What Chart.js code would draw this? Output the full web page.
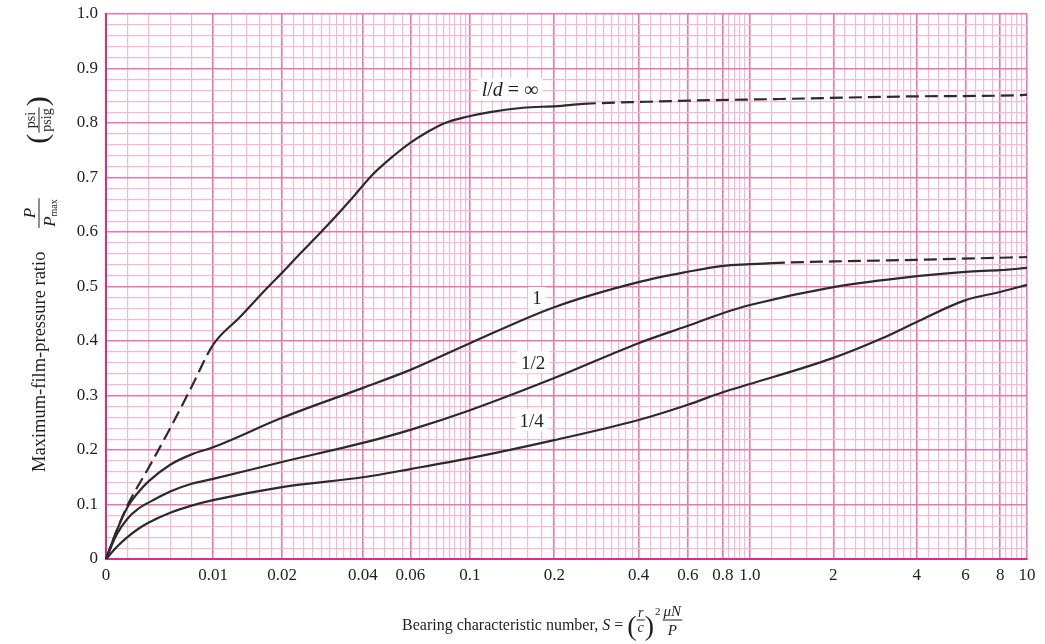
<!DOCTYPE html>
<html><head><meta charset="utf-8">
<script src="https://cdn.jsdelivr.net/npm/chart.js@4.4.1/dist/chart.umd.min.js"></script>
<style>html,body{margin:0;padding:0;background:#fff;}canvas{display:block;}</style>
</head><body>
<canvas id="c" width="1045" height="644" style="width:1045px;height:644px"></canvas>
<script>
// ---------------- data ----------------
const infS = [0, 0.001, 0.002, 0.004, 0.006, 0.008, 0.01, 0.01311, 0.01738, 0.02, 0.02333, 0.02722, 0.03286, 0.03672, 0.04357, 0.05174, 0.05978, 0.0692, 0.0808, 0.0965, 0.1179, 0.1547, 0.2045, 0.2532, 0.43, 0.74, 1.28, 1.94, 4.11, 9.4, 10];
const infP = [0, 0.052, 0.098, 0.168, 0.24, 0.316, 0.393, 0.444, 0.499, 0.525, 0.56, 0.594, 0.637, 0.664, 0.706, 0.739, 0.763, 0.783, 0.80, 0.811, 0.82, 0.828, 0.831, 0.835, 0.839, 0.842, 0.844, 0.846, 0.849, 0.851, 0.852];
const infDashBelow = 0.01, infDashAbove = 0.25;

const oneS = [0, 0.001, 0.002, 0.003, 0.004, 0.006, 0.008, 0.01, 0.02, 0.04, 0.06, 0.1, 0.2, 0.4, 0.6, 0.8, 1, 1.2, 2, 4, 10];
const oneP = [0, 0.052, 0.095, 0.122, 0.143, 0.173, 0.192, 0.205, 0.259, 0.314, 0.347, 0.396, 0.462, 0.508, 0.527, 0.538, 0.541, 0.543, 0.546, 0.549, 0.554];
const oneDashAbove = 1.2;

const halfS = [0, 0.001, 0.002, 0.003, 0.0046, 0.006, 0.008, 0.01, 0.02, 0.04, 0.06, 0.1, 0.2, 0.4, 0.6, 0.8, 1, 2, 4, 6, 8, 10];
const halfP = [0, 0.045, 0.074, 0.092, 0.11, 0.124, 0.138, 0.147, 0.178, 0.213, 0.237, 0.273, 0.332, 0.396, 0.428, 0.451, 0.466, 0.499, 0.519, 0.527, 0.530, 0.534];

const quarterS = [0, 0.001, 0.002, 0.003, 0.004, 0.006, 0.008, 0.01, 0.02, 0.04, 0.06, 0.1, 0.2, 0.4, 0.6, 0.8, 1, 2, 3, 4, 6, 8, 10];
const quarterP = [0, 0.022, 0.04, 0.055, 0.067, 0.085, 0.098, 0.108, 0.132, 0.15, 0.165, 0.185, 0.218, 0.255, 0.283, 0.306, 0.321, 0.369, 0.405, 0.435, 0.475, 0.49, 0.503];

// tick values / labels
const xMajorTicks = [0, 0.01, 0.02, 0.04, 0.06, 0.1, 0.2, 0.4, 0.6, 0.8, 1, 2, 4, 6, 8, 10];
const xTickLabels = ['0', '0.01', '0.02', '0.04', '0.06', '0.1', '0.2', '0.4', '0.6', '0.8', '1.0', '2', '4', '6', '8', '10'];
const xMinorTicks = [0.002, 0.004, 0.006, 0.008,
  0.012, 0.014, 0.016, 0.018,
  0.022, 0.024, 0.026, 0.028, 0.03, 0.032, 0.034, 0.036, 0.038,
  0.044, 0.048, 0.052, 0.056,
  0.065, 0.07, 0.075, 0.08, 0.084, 0.088, 0.092, 0.096,
  0.11, 0.12, 0.13, 0.14, 0.16, 0.18,
  0.22, 0.24, 0.26, 0.28, 0.3, 0.32, 0.34, 0.36, 0.38,
  0.44, 0.48, 0.52, 0.56,
  0.65, 0.7, 0.75,
  0.84, 0.88, 0.92, 0.96,
  1.2, 1.4, 1.6, 1.8,
  2.2, 2.4, 2.6, 2.8, 3, 3.2, 3.4, 3.6, 3.8,
  4.4, 4.8, 5.2, 5.6,
  6.5, 7, 7.5,
  8.4, 8.8, 9.2, 9.6];
const yTicks = [0, 0.02, 0.04, 0.06, 0.08, 0.1, 0.12, 0.14, 0.16, 0.18, 0.2, 0.22, 0.24, 0.26, 0.28, 0.3,
  0.32, 0.34, 0.36, 0.38, 0.4, 0.42, 0.44, 0.46, 0.48, 0.5, 0.52, 0.54, 0.56, 0.58, 0.6,
  0.62, 0.64, 0.66, 0.68, 0.7, 0.72, 0.74, 0.76, 0.78, 0.8, 0.82, 0.84, 0.86, 0.88, 0.9,
  0.92, 0.94, 0.96, 0.98, 1.0];
const yMajorTicks = [0, 0.1, 0.2, 0.3, 0.4, 0.5, 0.6, 0.7, 0.8, 0.9, 1.0];
const yTickLabels = ['0', '0.1', '0.2', '0.3', '0.4', '0.5', '0.6', '0.7', '0.8', '0.9', '1.0'];

// curve labels (placed in data coordinates)
const curveLabelS = [0.139, 0.1735, 0.168, 0.166];
const curveLabelP = [0.862, 0.479, 0.361, 0.255];

// ---------------- styles ----------------
const FONT = '"Liberation Serif", "Times New Roman", serif';
const INK = '#1f1f1f';
const GRID_MINOR = '#f6b9d5';
const GRID_MAJOR = '#ee74ad';
const AXIS = '#e0288c';

// segmented semi-log axis of the graph paper: linear up to 0.01, logarithmic cycles after
const paperAnchors = [[0, 0, 'lin'], [0.01, 0.1162, 'lin'], [0.02, 0.1911, 'log'], [0.1, 0.3952, 'log'], [1, 0.6992, 'log'], [10, 1, 'log']];

class PaperLogScale extends Chart.Scale {
  determineDataLimits() { this.min = 0; this.max = 10; }
  buildTicks() {
    const t = [];
    xMajorTicks.forEach((v, i) => t.push({ value: v, major: true, text: xTickLabels[i] }));
    xMinorTicks.forEach(v => t.push({ value: v, major: false, text: '' }));
    t.sort((a, b) => a.value - b.value);
    return t;
  }
  _dec(v) {
    const a = paperAnchors;
    if (v <= a[0][0]) return a[0][1];
    for (let i = 1; i < a.length; i++) {
      const v0 = a[i - 1][0], f0 = a[i - 1][1], v1 = a[i][0], f1 = a[i][1], mode = a[i][2];
      if (v <= v1) {
        const t = mode === 'lin' ? (v - v0) / (v1 - v0) : Math.log(v / v0) / Math.log(v1 / v0);
        return f0 + t * (f1 - f0);
      }
    }
    return 1;
  }
  getPixelForValue(v) { return this.getPixelForDecimal(this._dec(v)); }
  getValueForPixel(p) {
    const d = this.getDecimalForPixel(p), a = paperAnchors;
    for (let i = 1; i < a.length; i++) {
      const v0 = a[i - 1][0], f0 = a[i - 1][1], v1 = a[i][0], f1 = a[i][1], mode = a[i][2];
      if (d <= f1 || i === a.length - 1) {
        const t = (d - f0) / (f1 - f0);
        return mode === 'lin' ? v0 + t * (v1 - v0) : v0 * Math.pow(v1 / v0, t);
      }
    }
  }
  getLabelForValue(v) { return String(v); }
}
PaperLogScale.id = 'paperLog';
PaperLogScale.defaults = {};
Chart.register(PaperLogScale);

function pts(xs, ys) { return xs.map((x, i) => ({ x: x, y: ys[i] })); }
const inList = (list, v) => list.some(m => Math.abs(m - v) < 1e-9);
const gridColor = list => c => (c.tick && inList(list, c.tick.value)) ? GRID_MAJOR : GRID_MINOR;
const gridWidth = list => c => (c.tick && inList(list, c.tick.value)) ? 1.6 : 1.2;

// ---------------- text helpers ----------------
function runsWidth(ctx, runs) { let w = 0; runs.forEach(r => { ctx.font = r.f; w += ctx.measureText(r.t).width; }); return w; }
function drawRuns(ctx, runs, x, base) {
  runs.forEach(r => { ctx.font = r.f; ctx.fillText(r.t, x, base + (r.dy || 0)); x += ctx.measureText(r.t).width; });
  return x;
}
function frac(ctx, num, den, x, axis, numBase, denBase, pad) {
  const wn = runsWidth(ctx, num), wd = runsWidth(ctx, den);
  const w = Math.max(wn, wd) + 2 * pad;
  drawRuns(ctx, num, x + (w - wn) / 2, numBase);
  drawRuns(ctx, den, x + (w - wd) / 2, denBase);
  ctx.fillRect(x, axis - 0.5, w, 1);
  return x + w;
}

const textPlugin = {
  id: 'paperTexts',
  afterDraw(chart) {
    const ctx = chart.ctx, xs = chart.scales.x, ys = chart.scales.y, A = chart.chartArea;
    ctx.save();
    ctx.textAlign = 'left';
    ctx.textBaseline = 'alphabetic';
    const R = s => s + 'px ' + FONT, I = s => 'italic ' + s + 'px ' + FONT;

    // curve labels
    const labelRuns = [
      [{ t: 'l', f: I(20) }, { t: '/', f: R(20) }, { t: 'd', f: I(20) }, { t: ' = ∞', f: R(20) }],
      [{ t: '1', f: R(19) }],
      [{ t: '1/2', f: R(19) }],
      [{ t: '1/4', f: R(19) }]
    ];
    labelRuns.forEach((runs, i) => {
      const cx = xs.getPixelForValue(curveLabelS[i]), cy = ys.getPixelForValue(curveLabelP[i]);
      const w = runsWidth(ctx, runs);
      ctx.fillStyle = '#fff';
      ctx.fillRect(cx - w / 2 - 4, cy - 11, w + 8, 22);
      ctx.fillStyle = INK;
      drawRuns(ctx, runs, cx - w / 2, cy + 6.5);
    });

    // x-axis title
    ctx.fillStyle = INK;
    const xb = A.bottom + 71;
    let x = A.left + 296;
    x = drawRuns(ctx, [{ t: 'Bearing characteristic number, ', f: R(16) }, { t: 'S', f: I(16) }, { t: ' = ', f: R(16) }], x, xb);
    x = drawRuns(ctx, [{ t: '(', f: R(28) }], x, xb + 5);
    x = frac(ctx, [{ t: 'r', f: I(14) }], [{ t: 'c', f: I(14) }], x, xb - 10, xb - 13, xb + 2, 1);
    x = drawRuns(ctx, [{ t: ')', f: R(28) }], x, xb + 5);
    x = drawRuns(ctx, [{ t: '2', f: R(11) }], x + 1, xb - 15);
    x = frac(ctx, [{ t: 'μN', f: I(15) }], [{ t: 'P', f: I(15) }], x + 2, xb - 10, xb - 14, xb + 5, 1);

    // y-axis title (rotated)
    ctx.save();
    ctx.translate(A.left - 61, A.bottom - 87);
    ctx.rotate(-Math.PI / 2);
    ctx.fillStyle = INK;
    drawRuns(ctx, [{ t: 'Maximum-film-pressure ratio', f: R(18.5) }], 0, 0);
    const fn = [{ t: 'P', f: I(17) }], fd = [{ t: 'P', f: I(17) }, { t: 'max', f: R(10), dy: 2 }];
    const fw = Math.max(runsWidth(ctx, fn), runsWidth(ctx, fd)) + 2;
    frac(ctx, fn, fd, 259 - fw / 2, -6, -10, 10, 1);
    const pn = [{ t: 'psi', f: R(14) }], pd = [{ t: 'psig', f: R(14) }];
    const pw = Math.max(runsWidth(ctx, pn), runsWidth(ctx, pd)) + 2;
    ctx.font = R(30);
    const parW = ctx.measureText('(').width;
    let u = 352 - (pw + 2 * parW + 2) / 2;
    u = drawRuns(ctx, [{ t: '(', f: R(30) }], u, 2);
    u = frac(ctx, pn, pd, u + 1, -6, -10, 6, 1);
    drawRuns(ctx, [{ t: ')', f: R(30) }], u + 1, 2);
    ctx.restore();

    ctx.restore();
  }
};

// ---------------- chart ----------------
const lineStyle = { borderColor: '#2b2b2b', borderWidth: 2.2, pointRadius: 0, fill: false, cubicInterpolationMode: 'monotone' };
const DASH = [13, 6];

new Chart(document.getElementById('c'), {
  type: 'line',
  data: {
    datasets: [
      Object.assign({ label: 'l/d = ∞', data: pts(infS, infP),
        segment: { borderDash: c => (c.p1.parsed.x <= infDashBelow || c.p0.parsed.x >= infDashAbove) ? DASH : undefined } }, lineStyle),
      Object.assign({ label: '1', data: pts(oneS, oneP),
        segment: { borderDash: c => (c.p0.parsed.x >= oneDashAbove) ? DASH : undefined } }, lineStyle),
      Object.assign({ label: '1/2', data: pts(halfS, halfP) }, lineStyle),
      Object.assign({ label: '1/4', data: pts(quarterS, quarterP) }, lineStyle)
    ]
  },
  options: {
    responsive: false,
    animation: false,
    devicePixelRatio: 1,
    layout: { padding: { top: 14, right: 18, left: 0, bottom: 0 } },
    plugins: { legend: { display: false }, tooltip: { enabled: false } },
    scales: {
      x: {
        type: 'paperLog',
        position: 'bottom',
        grid: { color: gridColor(xMajorTicks), lineWidth: gridWidth(xMajorTicks), drawTicks: false },
        border: { color: AXIS, width: 2 },
        ticks: { autoSkip: false, maxRotation: 0, minRotation: 0, padding: 6, color: INK,
          font: { family: FONT, size: 17 },
          callback: function (v, i, ticks) { return ticks[i].text; } },
        afterFit: s => { s.height = 85; s.paddingLeft = 0; s.paddingRight = 0; }
      },
      y: {
        type: 'linear', min: 0, max: 1,
        afterBuildTicks: s => { s.ticks = yTicks.map(v => ({ value: v })); },
        grid: { color: gridColor(yMajorTicks), lineWidth: gridWidth(yMajorTicks), drawTicks: false },
        border: { color: AXIS, width: 2 },
        ticks: { autoSkip: false, padding: 8, color: INK, font: { family: FONT, size: 17 },
          callback: v => { const k = yMajorTicks.findIndex(m => Math.abs(m - v) < 1e-9); return k >= 0 ? yTickLabels[k] : ''; } },
        afterFit: s => { s.width = 106; s.paddingTop = 0; s.paddingBottom = 0; }
      }
    }
  },
  plugins: [textPlugin]
});
</script>
</body></html>
